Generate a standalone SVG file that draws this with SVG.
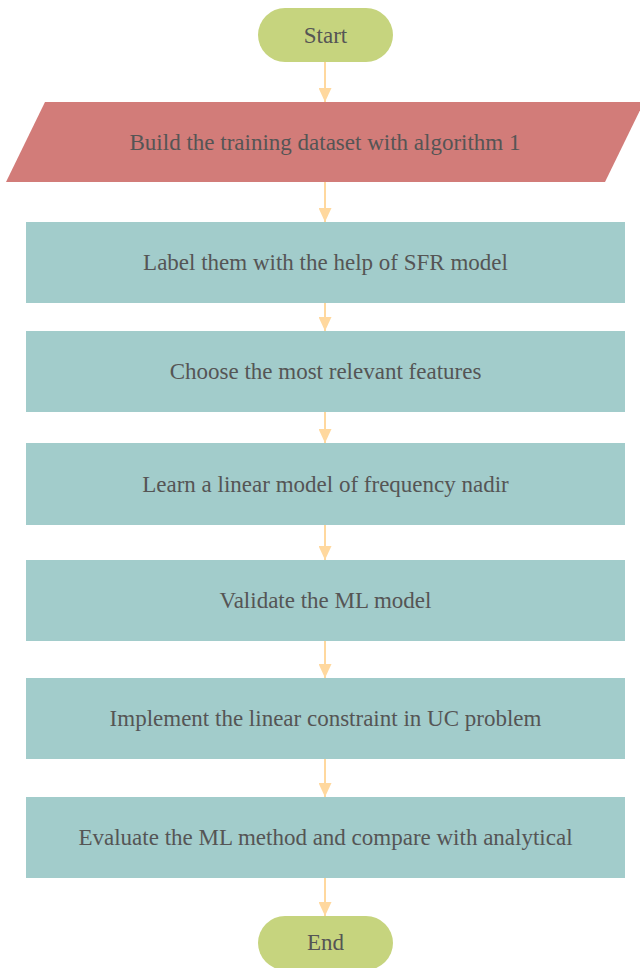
<svg xmlns="http://www.w3.org/2000/svg" width="640" height="968" viewBox="0 0 640 968">
<style>
.t{font-family:"Liberation Serif","Times New Roman",serif;font-size:23px;fill:#555555;text-anchor:middle;dominant-baseline:central}
.term{fill:#C6D47E}
.io{fill:#D27C79}
.proc{fill:#A2CCCB}
.c{stroke:#FFD89E;stroke-width:2;fill:none;marker-end:url(#ah)}
</style>
<defs>
<marker id="ah" markerWidth="14" markerHeight="13" refX="14" refY="6.5" orient="auto" markerUnits="userSpaceOnUse" viewBox="0 0 14 13">
<path d="M0,0 L14,6.5 L0,13 Z" fill="#FFD89E"/>
</marker>
</defs>
<rect width="640" height="968" fill="#ffffff"/>
<g id="connectors">
<line class="c" x1="325" y1="62" x2="325" y2="102"/>
<line class="c" x1="325" y1="182" x2="325" y2="222"/>
<line class="c" x1="325" y1="303" x2="325" y2="331"/>
<line class="c" x1="325" y1="412" x2="325" y2="443"/>
<line class="c" x1="325" y1="525" x2="325" y2="560"/>
<line class="c" x1="325" y1="641" x2="325" y2="678"/>
<line class="c" x1="325" y1="759" x2="325" y2="797"/>
<line class="c" x1="325" y1="878" x2="325" y2="916"/>
</g>
<g id="start">
<rect class="term" x="258" y="8" width="135" height="54" rx="27"/>
<text class="t" x="325.5" y="35">Start</text>
</g>
<g id="build">
<polygon class="io" points="45,102 644,102 605,182 6,182"/>
<text class="t" x="325" y="142">Build the training dataset with algorithm 1</text>
</g>
<g id="label">
<rect class="proc" x="26" y="222" width="599" height="81"/>
<text class="t" x="325.5" y="262.5">Label them with the help of SFR model</text>
</g>
<g id="choose">
<rect class="proc" x="26" y="331" width="599" height="81"/>
<text class="t" x="325.5" y="371.5">Choose the most relevant features</text>
</g>
<g id="learn">
<rect class="proc" x="26" y="443" width="599" height="82"/>
<text class="t" x="325.5" y="484">Learn a linear model of frequency nadir</text>
</g>
<g id="validate">
<rect class="proc" x="26" y="560" width="599" height="81"/>
<text class="t" x="325.5" y="600.5">Validate the ML model</text>
</g>
<g id="implement">
<rect class="proc" x="26" y="678" width="599" height="81"/>
<text class="t" x="325.5" y="718.5">Implement the linear constraint in UC problem</text>
</g>
<g id="evaluate">
<rect class="proc" x="26" y="797" width="599" height="81"/>
<text class="t" x="325.5" y="837.5">Evaluate the ML method and compare with analytical</text>
</g>
<g id="end">
<rect class="term" x="258" y="916" width="135" height="54" rx="27"/>
<text class="t" x="325.5" y="942">End</text>
</g>
</svg>
